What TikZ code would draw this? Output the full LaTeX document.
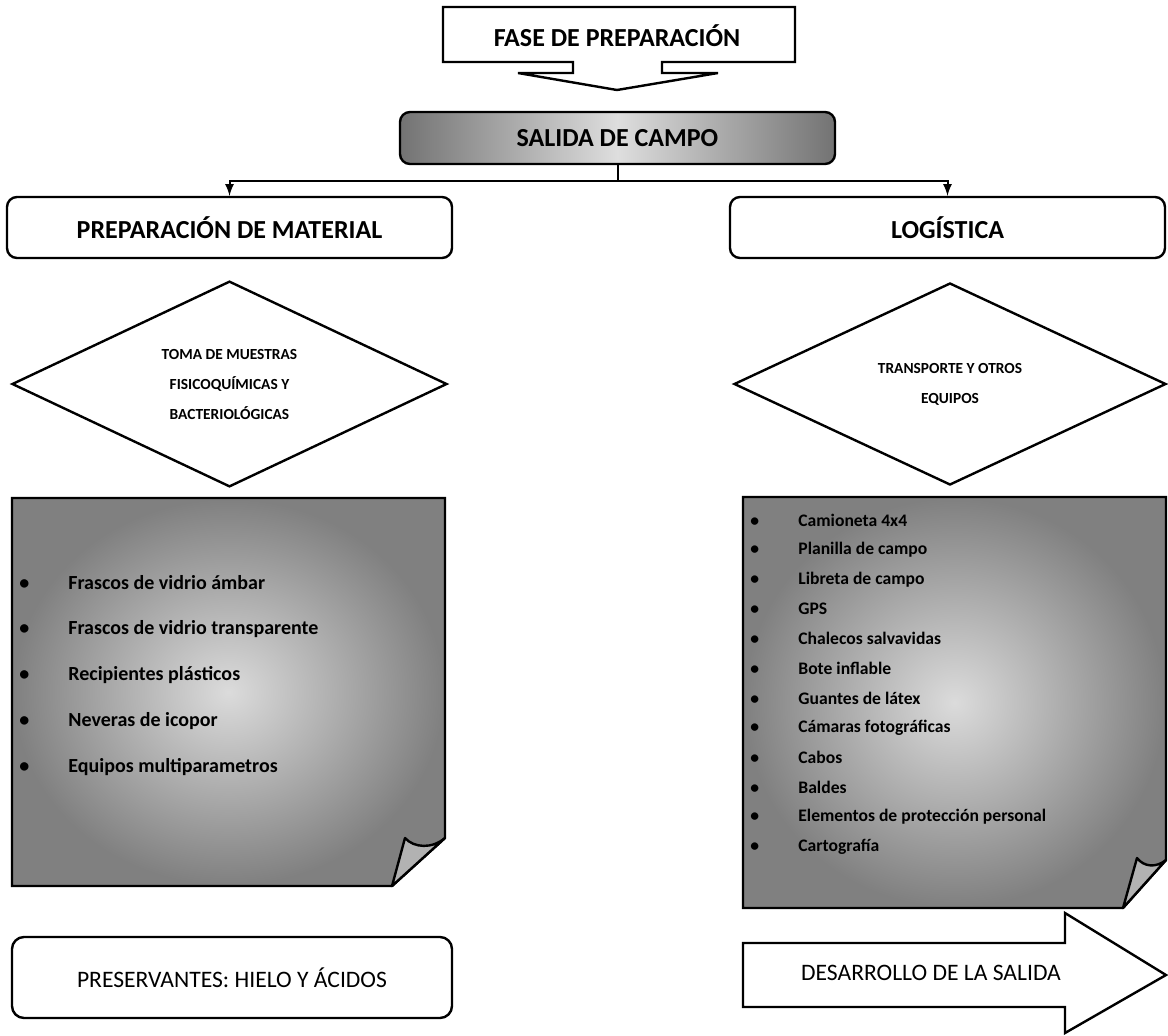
\documentclass[tikz,border=0pt]{standalone}
\usepackage{fontspec}
\setmainfont{Carlito}
\usetikzlibrary{shapes.geometric}

\begin{document}
\begin{tikzpicture}[
		x=0.5pt, y=-0.5pt,
		>=latex,
		titlebox/.style={draw, line width=1.2pt, rounded corners=5pt, minimum width=#1,
			minimum height=30.5pt, font=\fontsize{13}{15}\selectfont\bfseries},
		choice/.style={draw, diamond, line width=1.2pt, inner sep=0pt, minimum width=#1,
			minimum height=101pt, align=center, font=\fontsize{7.7}{15}\selectfont\bfseries},
		note/.style={draw, line width=1.2pt, inner color=black!14, outer color=black!50},
		flap/.style={draw, line width=1.2pt, fill=black!30, line join=round},
		plainbox/.style={draw, line width=1.2pt, fill=white},
		conn/.style={line width=1pt},
		leftitem/.style={anchor=west, inner sep=0pt, font=\fontsize{10}{12}\selectfont\bfseries},
		rightitem/.style={anchor=west, inner sep=0pt, font=\fontsize{8.8}{10}\selectfont\bfseries},
	]
	\useasboundingbox (0,0) rectangle (1168,1035);

	% top callout
	\draw[plainbox] (443,7) -- (795,7) -- (795,62) -- (662,62) -- (662,73) -- (718,73)
		-- (617,90) -- (518,73) -- (573,73) -- (573,62) -- (443,62) -- cycle;
	\node[font=\fontsize{13}{15}\selectfont\bfseries] (fase) at (617,36) {FASE DE PREPARACIÓN};

	\node[titlebox=217.5pt, minimum height=26pt, left color=black!55, right color=black!55,
		middle color=black!13] (salida) at (617.5,138) {SALIDA DE CAMPO};

	\node[titlebox=222.5pt] (material) at (229.5,227.5) {PREPARACIÓN DE MATERIAL};
	\node[titlebox=217.5pt] (logistica) at (947.5,227.5) {LOGÍSTICA};

	\draw[conn, ->] (salida.south) -- ++(0,16) coordinate (split) -| (material.north);
	\draw[conn, ->] (split) -| (logistica.north);

	\node[choice=217.5pt] (toma) at (229.5,384) {TOMA DE MUESTRAS\\FISICOQUÍMICAS Y\\BACTERIOLÓGICAS};
	\node[choice=216pt] (transporte) at (950,384) {TRANSPORTE Y OTROS\\EQUIPOS};

	% left note
	\path[note] (12,498) -- (445,498) -- (445,838) -- (392,886) -- (12,886) -- cycle;
	\draw[flap] (445,838) .. controls (432,849) and (414,848) .. (405,838) -- (392,886) -- cycle;
	\foreach \item [count=\i] in {Frascos de vidrio ámbar, Frascos de vidrio transparente,
		Recipientes plásticos, Neveras de icopor, Equipos multiparametros}
		\node[leftitem] (mat\i) at (19,{583+46*(\i-1)}) {\makebox[24.5pt][l]{\textbullet}\item};

	% right note
	\path[note] (743,497) -- (1166,497) -- (1166,860) -- (1123,908) -- (743,908) -- cycle;
	\draw[flap] (1166,860) .. controls (1156,868) and (1144,867) .. (1137,858) -- (1123,908) -- cycle;
	\foreach \item [count=\i] in {Camioneta 4x4, Planilla de campo, Libreta de campo, GPS,
		Chalecos salvavidas, Bote inflable, Guantes de látex, Cámaras fotográficas, Cabos,
		Baldes, Elementos de protección personal, Cartografía}
		\node[rightitem] (log\i) at (750,{520+29.7*(\i-1)}) {\makebox[24pt][l]{\textbullet}\item};

	% bottom
	\node[titlebox=220pt, minimum height=40.5pt, rounded corners=6pt,
		font=\fontsize{11.8}{14}\selectfont] (preservantes) at (232,977.5) {PRESERVANTES: HIELO Y ÁCIDOS};
	\draw[plainbox] (743,943) -- (1065,943) -- (1065,913) -- (1166,975) -- (1065,1033)
		-- (1065,1007) -- (743,1007) -- cycle;
	\node[font=\fontsize{11.8}{14}\selectfont] (desarrollo) at (931,973) {DESARROLLO DE LA SALIDA};
\end{tikzpicture}
\end{document}
